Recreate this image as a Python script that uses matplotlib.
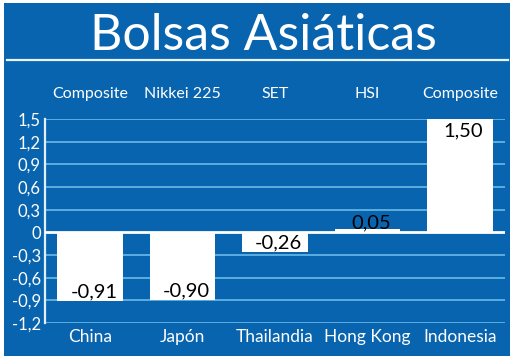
import matplotlib
matplotlib.use('Agg')
import matplotlib.pyplot as plt
from matplotlib.patches import Rectangle
from matplotlib.lines import Line2D

countries = ['China', 'Japón', 'Thailandia', 'Hong Kong', 'Indonesia']
indices = ['Composite', 'Nikkei 225', 'SET', 'HSI', 'Composite']
values = [-0.91, -0.90, -0.26, 0.05, 1.50]
yticks = [-1.2, -0.9, -0.6, -0.3, 0, 0.3, 0.6, 0.9, 1.2, 1.5]
ytick_labels = ['-1,2', '-0,9', '-0,6', '-0,3', '0', '0,3', '0,6', '0,9', '1,2', '1,5']

BLUE = '#0864ae'
GRID = '#62b3e4'
plain = ['Lato', 'DejaVu Sans']

W, H = 520, 356
fig = plt.figure(figsize=(W / 100, H / 100), dpi=100)
fig.patch.set_facecolor('white')

# blue panel + title rule
fig.patches.append(Rectangle((4 / W, 0), 506 / W, 353 / H, transform=fig.transFigure,
                             facecolor=BLUE, edgecolor='none', zorder=-5))
fig.lines.append(Line2D([7 / W, 508 / W], [1 - 60 / H] * 2, transform=fig.transFigure,
                        color='#e8f4fc', lw=1.6, zorder=-4))
fig.text(263 / W, 1 - 36 / H, 'Bolsas Asiáticas', color='white', fontsize=36,
         family=plain, ha='center', va='center')

ax = fig.add_axes([45 / W, 33 / H, 460 / W, 204 / H])
ax.set_zorder(2)
ax.set_facecolor('none')
x = list(range(len(values)))
ax.bar(x, values, width=0.71, color='white', zorder=3)
ax.set_xlim(-0.49, 4.49)
ax.set_ylim(-1.2, 1.5)

for t in yticks:
    if t != 0:
        ax.axhline(t, color=GRID, lw=1.3, zorder=1)
ax.axhline(0, color='white', lw=2, zorder=4)

ax.set_yticks(yticks)
ax.set_yticklabels(ytick_labels, color='white', fontsize=12, family=plain)
ax.tick_params(axis='y', length=0, pad=3)
ax.set_xticks(x)
ax.set_xticklabels(countries, color='white', fontsize=12.5, family=plain)
ax.tick_params(axis='x', length=0, pad=4)
for s in ['top', 'right', 'bottom']:
    ax.spines[s].set_visible(False)
ax.spines['left'].set_color('#dff0fb')
ax.spines['left'].set_linewidth(1.6)

# value labels at the bar ends
for i, v in enumerate(values):
    lab = ('%.2f' % v).replace('.', ',')
    if v > 0.5:
        ax.text(i + 0.04, v - 0.05, lab, ha='center', va='top', fontsize=14.5,
                family=plain, color='black', zorder=5)
    else:
        ax.text(i + 0.04, min(v, 0) + 0.01, lab, ha='center', va='bottom',
                fontsize=14.5, family=plain, color='black', zorder=5)

for i, name in enumerate(indices):
    ax.text(i, 1.5 + 0.33, name, ha='center', va='center', fontsize=11.5,
            family=plain, color='white')

fig.savefig('out.png', dpi=100)
